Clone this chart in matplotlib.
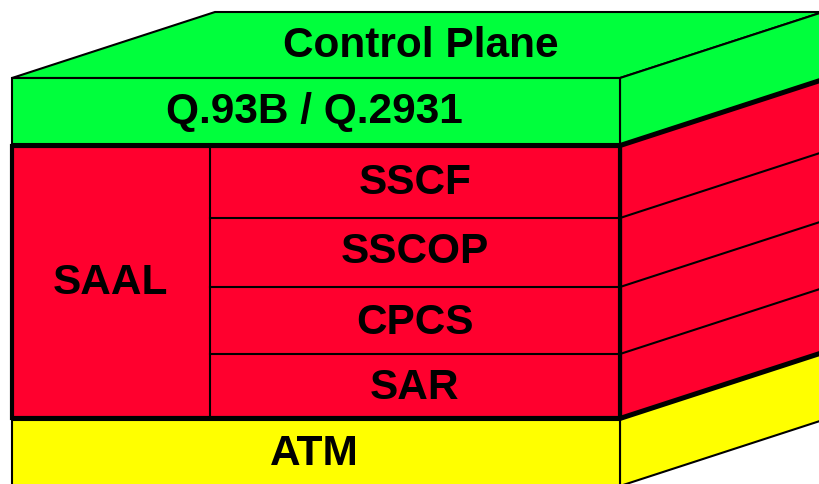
import matplotlib.pyplot as plt
from matplotlib.patches import Polygon

# ==========================================
# 1. 数据 (像素坐标, y 向下)
# ==========================================
W, H = 820, 484
front_x = [12, 620]          # 正面左右边
depth = (203, -66)           # 透视偏移

# 三层: 名称, 上沿, 下沿, 颜色
layer_names = ['Q.93B / Q.2931', 'SAAL', 'ATM']
layer_top = [78, 146, 420]
layer_bot = [144, 418, 486]
layer_colors = ['#00FF3C', '#FF002E', '#FFFF00']
layer_label_x = [314, 110, 314]
layer_label_base = [123, 294, 465]

# SAAL 子层
saal_split_x = 210
sub_names = ['SSCF', 'SSCOP', 'CPCS', 'SAR']
sub_edges = [146, 218, 287, 354, 418]
sub_label_base = [194, 263, 334, 399]

title = 'Control Plane'
title_pos = (421, 57)

plt.rcParams['font.family'] = ['Liberation Sans', 'DejaVu Sans']
FS = 30.5

fig = plt.figure(figsize=(W / 100, H / 100), dpi=100)
ax = fig.add_axes([0, 0, 1, 1])
ax.set_xlim(0, W)
ax.set_ylim(H, 0)
ax.axis('off')

x0, x1 = front_x
dx, dy = depth


def poly(pts, fc, lw=1.5, z=1):
    ax.add_patch(Polygon(pts, closed=True, facecolor=fc, edgecolor='black',
                         linewidth=lw, joinstyle='miter', zorder=z))


def label(x, y, s):
    ax.text(x, y, s, ha='center', va='baseline', fontsize=FS,
            fontweight='bold', zorder=4)


# 顶面
poly([(x0, layer_top[0]), (x0 + dx, layer_top[0] + dy),
      (x1 + dx, layer_top[0] + dy), (x1, layer_top[0])], layer_colors[0])
label(*title_pos, title)

# 各层正面和侧面
for i, name in enumerate(layer_names):
    t, b = layer_top[i], layer_bot[i]
    lw = 3 if name == 'SAAL' else 1.5
    poly([(x1, t), (x1 + dx, t + dy), (x1 + dx, b + dy), (x1, b)],
         layer_colors[i], lw=lw)
    poly([(x0, t), (x1, t), (x1, b), (x0, b)], layer_colors[i], lw=lw, z=2)
    label(layer_label_x[i], layer_label_base[i], name)

# 侧面分隔线
for e in sub_edges[1:-1]:
    ax.plot([x1, x1 + dx], [e, e + dy], color='black', lw=1.5, zorder=3)

# SAAL 内部
ax.plot([saal_split_x, saal_split_x], [sub_edges[0], sub_edges[-1]],
        color='black', lw=1.5, zorder=3)
for e in sub_edges[1:-1]:
    ax.plot([saal_split_x, x1], [e, e], color='black', lw=1.5, zorder=3)
for i, name in enumerate(sub_names):
    label((saal_split_x + x1) / 2 + 0, sub_label_base[i], name)

fig.savefig('out.png', dpi=100)
